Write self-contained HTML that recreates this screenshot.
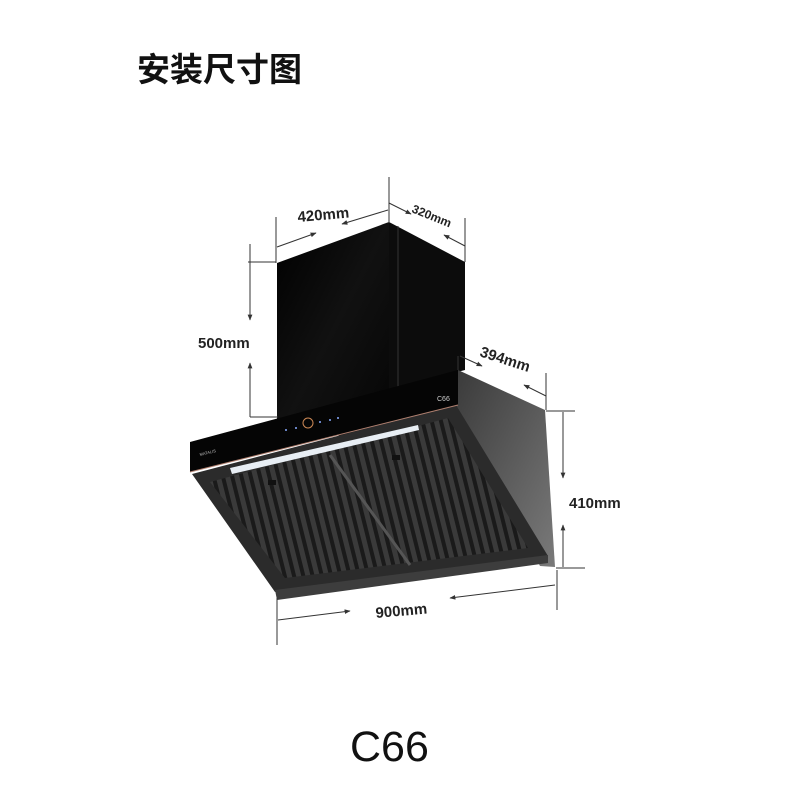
<!DOCTYPE html>
<html><head><meta charset="utf-8"><style>
body{margin:0;background:#fff;width:800px;height:800px;overflow:hidden}
</style></head><body>
<svg width="800" height="800" viewBox="0 0 800 800" xmlns="http://www.w3.org/2000/svg">
<defs>
<linearGradient id="side" x1="0" y1="0" x2="1" y2="1">
<stop offset="0" stop-color="#3a3a3a"/><stop offset="1" stop-color="#7a7a7a"/></linearGradient>
<linearGradient id="chim" x1="0" y1="0" x2="1" y2="1">
<stop offset="0" stop-color="#000"/><stop offset="0.5" stop-color="#111"/><stop offset="1" stop-color="#050505"/></linearGradient>
<pattern id="slats" width="9" height="10" patternUnits="userSpaceOnUse" patternTransform="rotate(-14)">
<rect width="9" height="10" fill="#3a3a3a"/><rect width="4" height="10" fill="#1a1a1a"/></pattern>
<marker id="ar" viewBox="0 0 10 10" refX="9" refY="5" markerWidth="6" markerHeight="6" orient="auto"><path d="M0,1 L10,5 L0,9 z" fill="#333"/></marker>
</defs>
<text x="137" y="81" font-family="'Liberation Sans','Noto Sans CJK SC',sans-serif" font-size="33" font-weight="bold" fill="#111">安装尺寸图</text>
<polygon points="277,263 389,222 389,440 277,430" fill="url(#chim)"/>
<polygon points="389,222 465,262 465,370 389,390" fill="#0c0c0c"/>
<line x1="398" y1="226" x2="398" y2="388" stroke="#333" stroke-width="1"/>
<polygon points="458,370 545,410 555,567 540,566 455,405" fill="url(#side)"/>
<polygon points="192,474 456,405 548,556 275,592" fill="#2b2b2b"/>
<polygon points="210,482 448,418 528,548 285,578" fill="url(#slats)"/>
<line x1="330" y1="455" x2="410" y2="565" stroke="#555" stroke-width="3"/>
<polygon points="275,590 548,555 548,563 277,600" fill="#3d3d3d"/>
<polygon points="190,442 458,370 458,405 190,472" fill="#050505"/>
<line x1="190" y1="472" x2="458" y2="405" stroke="#b08070" stroke-width="1"/>
<polygon points="230,468 418,425 419,430 232,474" fill="#e8eef4"/>
<text x="437" y="401" font-family="'Liberation Sans',sans-serif" font-size="7" fill="#ccc">C66</text>
<text x="200" y="456" font-family="'Liberation Sans',sans-serif" font-size="4" fill="#bbb" transform="rotate(-14 200 456)">MATALIS</text>
<circle cx="308" cy="423" r="5" fill="none" stroke="#c85" stroke-width="1"/>
<g fill="#8af"><circle cx="286" cy="430" r="1"/><circle cx="296" cy="428" r="1"/><circle cx="320" cy="422" r="1"/><circle cx="330" cy="420" r="1"/><circle cx="338" cy="418" r="1"/></g>
<rect x="268" y="480" width="8" height="5" fill="#111"/><rect x="392" y="455" width="8" height="5" fill="#111"/>
<g stroke="#333" stroke-width="1" fill="none">
<line x1="276" y1="217" x2="276" y2="263"/><line x1="389" y1="177" x2="389" y2="223"/>
<line x1="277" y1="247" x2="316" y2="233" marker-end="url(#ar)"/><line x1="388" y1="210" x2="342" y2="224" marker-end="url(#ar)"/>
<line x1="389" y1="203" x2="411" y2="214" marker-end="url(#ar)"/><line x1="465" y1="246" x2="444" y2="235" marker-end="url(#ar)"/>
<line x1="465" y1="218" x2="465" y2="262"/>
<line x1="248" y1="262" x2="276" y2="262"/><line x1="250" y1="417" x2="278" y2="417"/>
<line x1="250" y1="244" x2="250" y2="320" marker-end="url(#ar)"/><line x1="250" y1="417" x2="250" y2="363" marker-end="url(#ar)"/>
<line x1="458" y1="356" x2="458" y2="370"/>
<line x1="460" y1="356" x2="482" y2="366" marker-end="url(#ar)"/><line x1="546" y1="396" x2="524" y2="385" marker-end="url(#ar)"/>
<line x1="546" y1="373" x2="546" y2="410"/>
<line x1="546" y1="411" x2="575" y2="411"/><line x1="556" y1="568" x2="585" y2="568"/>
<line x1="563" y1="412" x2="563" y2="478" marker-end="url(#ar)"/><line x1="563" y1="567" x2="563" y2="525" marker-end="url(#ar)"/>
<line x1="277" y1="598" x2="277" y2="645"/><line x1="557" y1="570" x2="557" y2="610"/>
<line x1="278" y1="620" x2="350" y2="611" marker-end="url(#ar)"/><line x1="555" y1="585" x2="450" y2="598" marker-end="url(#ar)"/>
</g>
<g font-family="'Liberation Sans',sans-serif" font-weight="bold" fill="#222">
<text x="298" y="222" font-size="15" transform="rotate(-5 298 222)">420mm</text>
<text x="411" y="212" font-size="12" transform="rotate(22 411 212)">320mm</text>
<text x="198" y="348" font-size="15">500mm</text>
<text x="479" y="356" font-size="15" transform="rotate(18 479 356)">394mm</text>
<text x="569" y="508" font-size="15">410mm</text>
<text x="376" y="618" font-size="15" transform="rotate(-5 376 618)">900mm</text>
<text x="350" y="761" font-size="43" font-weight="normal" fill="#111">C66</text>
</g>
</svg>
</body></html>
